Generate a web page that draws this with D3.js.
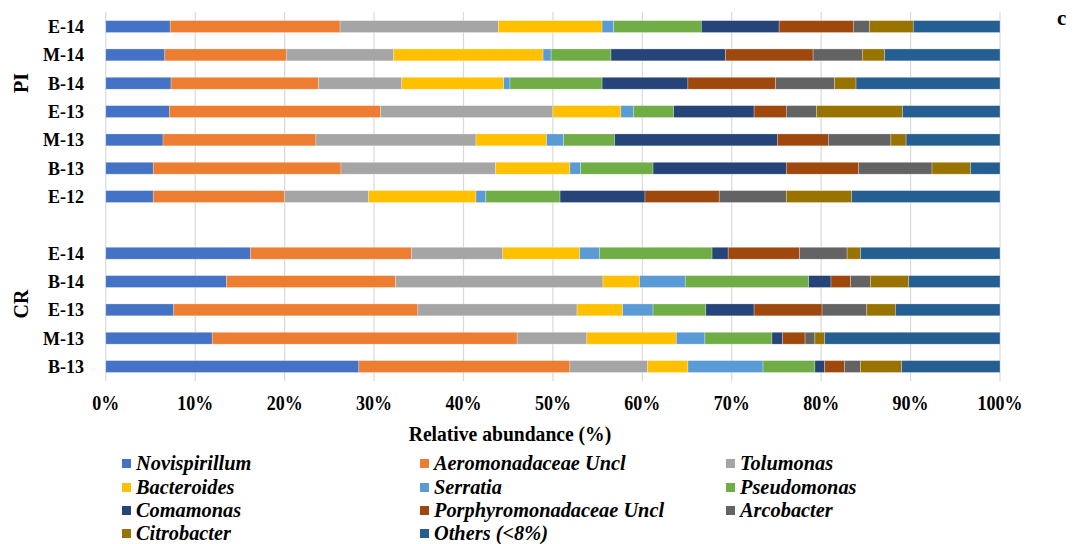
<!DOCTYPE html>
<html>
<head>
<meta charset="utf-8">
<script src="https://cdn.jsdelivr.net/npm/d3@7/dist/d3.min.js"></script>
<style>
  html, body { margin: 0; padding: 0; background: #fff; }
  svg { display: block; }
  text { font-family: "Liberation Serif", "Times New Roman", serif; fill: #000; }
</style>
</head>
<body>
<svg id="chart" width="1075" height="544"></svg>
<script>
// Sample rows, top to bottom, with the site each belongs to
const rowLabels = ["E-14","M-14","B-14","E-13","M-13","B-13","E-12","E-14","B-14","E-13","M-13","B-13"];
const rowGroups = ["PI","PI","PI","PI","PI","PI","PI","CR","CR","CR","CR","CR"];

// Taxa in stacking order
const taxa = ["Novispirillum","Aeromonadaceae Uncl","Tolumonas","Bacteroides","Serratia","Pseudomonas",
              "Comamonas","Porphyromonadaceae Uncl","Arcobacter","Citrobacter","Others (<8%)"];
const taxaColors = ["#4472C4","#ED7D31","#A5A5A5","#FFC000","#5B9BD5","#70AD47",
                    "#264478","#9E480E","#636363","#997300","#255E91"];

// Relative abundance (%) per taxon, one value per row above
const novispirillum   = [7.2, 6.6, 7.3, 7.1, 6.4, 5.3, 5.3, 16.2, 13.5, 7.6, 11.9, 28.3];
const aeromonadaceae  = [19.0, 13.6, 16.5, 23.6, 17.1, 21.0, 14.7, 18.0, 18.9, 27.3, 34.1, 23.6];
const tolumonas       = [17.7, 12.0, 9.3, 19.3, 17.9, 17.3, 9.4, 10.2, 23.2, 17.8, 7.8, 8.7];
const bacteroides     = [11.6, 16.7, 11.4, 7.6, 7.9, 8.3, 12.0, 8.6, 4.1, 5.1, 10.0, 4.5];
const serratia        = [1.3, 0.9, 0.7, 1.4, 1.9, 1.2, 1.1, 2.2, 5.1, 3.4, 3.2, 8.4];
const pseudomonas     = [9.8, 6.7, 10.3, 4.5, 5.7, 8.1, 8.3, 12.6, 13.8, 5.9, 7.5, 5.8];
const comamonas       = [8.7, 12.8, 9.6, 9.0, 18.2, 14.9, 9.5, 1.8, 2.5, 5.4, 1.2, 1.1];
const porphyromonad   = [8.3, 9.8, 9.8, 3.6, 5.7, 8.1, 8.3, 8.0, 2.2, 7.6, 2.5, 2.2];
const arcobacter      = [1.8, 5.5, 6.6, 3.4, 7.0, 8.2, 7.5, 5.3, 2.2, 5.0, 1.1, 1.8];
const citrobacter     = [4.9, 2.5, 2.4, 9.6, 1.7, 4.3, 7.3, 1.5, 4.3, 3.2, 1.1, 4.6];
const others          = [9.7, 12.9, 16.1, 10.9, 10.5, 3.3, 16.6, 15.6, 10.2, 11.7, 19.6, 11.0];

const xTicks = [0, 0.1, 0.2, 0.3, 0.4, 0.5, 0.6, 0.7, 0.8, 0.9, 1.0];

const seriesValues = [novispirillum, aeromonadaceae, tolumonas, bacteroides, serratia, pseudomonas,
                      comamonas, porphyromonad, arcobacter, citrobacter, others];

// Build the table that d3.stack consumes
const rowKeys = rowLabels.map((l, i) => rowGroups[i] + "|" + l);
const table = rowKeys.map((k, i) => {
  const r = { key: k };
  taxa.forEach((t, j) => { r[t] = seriesValues[j][i]; });
  return r;
});
// Band domain has an empty slot between the two sites
const bandDomain = [...rowKeys.slice(0, 7), "gap", ...rowKeys.slice(7)];

const svg = d3.select("#chart");

const x = d3.scaleLinear().domain([0, 1]).range([105.8, 1000]);
const y = d3.scaleBand().domain(bandDomain).range([12.4, 380.7]).paddingInner(0.58).paddingOuter(0.29);

// Vertical gridlines
svg.append("g")
  .selectAll("line")
  .data(xTicks)
  .join("line")
  .attr("x1", d => x(d)).attr("x2", d => x(d))
  .attr("y1", 12).attr("y2", 381)
  .attr("stroke", "#d9d9d9")
  .attr("stroke-width", 1.2);

// Stacked bars (100 % normalised)
const stack = d3.stack().keys(taxa).offset(d3.stackOffsetExpand);
const layers = stack(table);

svg.append("g")
  .selectAll("g")
  .data(layers)
  .join("g")
  .attr("fill", (d, i) => taxaColors[i])
  .selectAll("rect")
  .data(d => d)
  .join("rect")
  .attr("x", d => x(d[0]))
  .attr("y", d => y(d.data.key))
  .attr("width", d => Math.max(0, x(d[1]) - x(d[0])))
  .attr("height", y.bandwidth())
  .attr("stroke", "#ffffff")
  .attr("stroke-opacity", 0.45)
  .attr("stroke-width", 0.6);

// Row labels
svg.append("g")
  .selectAll("text")
  .data(rowKeys)
  .join("text")
  .attr("x", 84)
  .attr("y", d => y(d) + y.bandwidth() / 2)
  .attr("dy", "0.36em")
  .attr("text-anchor", "end")
  .attr("font-size", 18)
  .attr("font-weight", "bold")
  .text(d => d.split("|")[1]);

// Site labels, rotated
[["PI", 83], ["CR", 304]].forEach(([g, cy]) => {
  svg.append("text")
    .attr("transform", `translate(28,${cy}) rotate(-90)`)
    .attr("text-anchor", "middle")
    .attr("font-size", 20)
    .attr("font-weight", "bold")
    .text(g);
});

// X tick labels (narrow bold serif)
svg.append("g")
  .selectAll("text")
  .data(xTicks)
  .join("text")
  .attr("transform", d => `translate(${x(d)},410) scale(0.9,1)`)
  .attr("text-anchor", "middle")
  .attr("font-size", 20)
  .attr("font-weight", "bold")
  .text(d => d3.format(".0%")(d));

// Axis title
svg.append("text")
  .attr("transform", `translate(510,441) scale(0.98,1)`)
  .attr("text-anchor", "middle")
  .attr("font-size", 20)
  .attr("font-weight", "bold")
  .text("Relative abundance (%)");

// Panel letter
svg.append("text")
  .attr("x", 1057).attr("y", 25)
  .attr("font-size", 21)
  .attr("font-weight", "bold")
  .text("c");

// Legend: three columns, four rows
const legCols = [122, 420, 726];
const legRows = [463, 487, 510, 533];
const leg = svg.append("g")
  .selectAll("g")
  .data(taxa)
  .join("g")
  .attr("transform", (d, i) => `translate(${legCols[i % 3]},${legRows[Math.floor(i / 3)]})`);
leg.append("rect")
  .attr("x", 0).attr("y", -4)
  .attr("width", 9).attr("height", 9)
  .attr("fill", (d, i) => taxaColors[i]);
leg.append("text")
  .attr("transform", "translate(14,7) scale(0.97,1)")
  .attr("font-size", 21)
  .attr("font-weight", "bold")
  .attr("font-style", "italic")
  .text(d => d);
</script>
</body>
</html>
